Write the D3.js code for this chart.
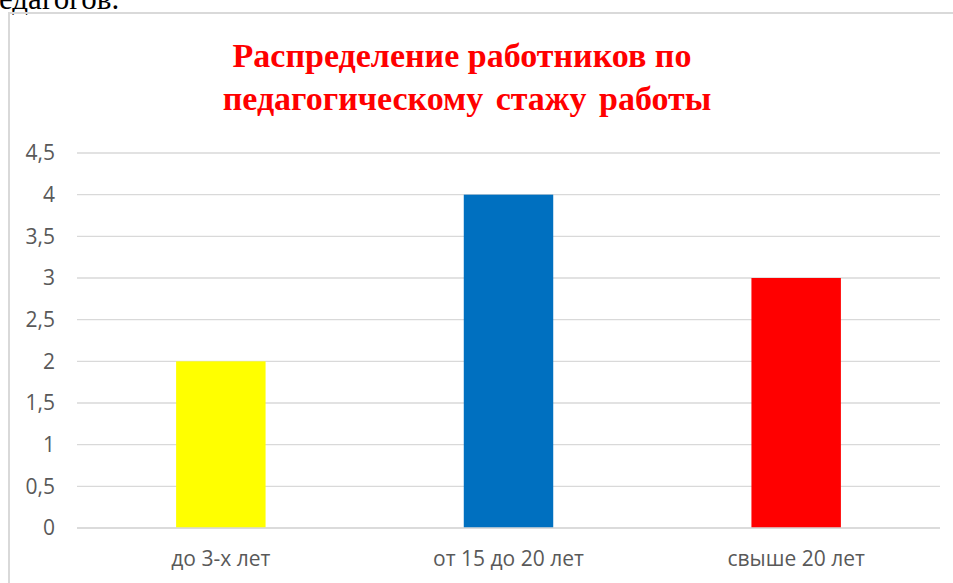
<!DOCTYPE html>
<html>
<head>
<meta charset="utf-8">
<script src="https://cdn.jsdelivr.net/npm/d3@7"></script>
<style>
  body { margin: 0; background: #fff; overflow: hidden; }
</style>
</head>
<body>
<div id="chart"></div>
<script>
const categories = ["до 3-х лет", "от 15 до 20 лет", "свыше 20 лет"];
const counts = [2, 4, 3];
const barColors = ["#ffff00", "#0070c0", "#ff0000"];
const yTicks = [0, 0.5, 1, 1.5, 2, 2.5, 3, 3.5, 4, 4.5];
const titleLines = ["Распределение работников по", "педагогическому стажу работы"];

const width = 953,
  height = 583;

const svg = d3.select("#chart")
  .append("svg")
  .attr("width", width)
  .attr("height", height);

// piece of the document text above the chart
svg.append("text")
  .attr("x", -1)
  .attr("y", 9)
  .attr("font-family", "Liberation Serif")
  .attr("font-size", 31)
  .attr("fill", "#000")
  .text("едагогов.");

// chart border
svg.append("rect")
  .attr("x", 9)
  .attr("y", 13)
  .attr("width", 960)
  .attr("height", 600)
  .attr("fill", "none")
  .attr("stroke", "#d9d9d9")
  .attr("stroke-width", 2);

const x = d3.scaleBand()
  .domain(categories)
  .range([77, 940])
  .paddingInner(0.689)
  .paddingOuter(0.3445);

const y = d3.scaleLinear()
  .domain([0, 4.5])
  .range([528, 153]);

// grid
svg.append("g")
  .selectAll("line")
  .data(yTicks)
  .join("line")
  .attr("x1", 77)
  .attr("x2", 940)
  .attr("y1", d => y(d))
  .attr("y2", d => y(d))
  .attr("stroke", "#d9d9d9")
  .attr("stroke-width", 1.3);

const fmt = d => String(d).replace(".", ",");

svg.append("g")
  .attr("font-family", "Open Sans")
  .attr("font-size", 21)
  .attr("fill", "#595959")
  .attr("text-anchor", "end")
  .selectAll("text")
  .data(yTicks)
  .join("text")
  .attr("x", 55)
  .attr("y", d => y(d))
  .attr("dy", "0.35em")
  .text(fmt);

// bars
svg.append("g")
  .selectAll("rect")
  .data(categories)
  .join("rect")
  .attr("x", d => x(d))
  .attr("width", x.bandwidth())
  .attr("y", (d, i) => y(counts[i]))
  .attr("height", (d, i) => y(0) - y(counts[i]))
  .attr("fill", (d, i) => barColors[i]);

// baseline over bars
svg.append("line")
  .attr("x1", 77)
  .attr("x2", 940)
  .attr("y1", y(0))
  .attr("y2", y(0))
  .attr("stroke", "#d9d9d9")
  .attr("stroke-width", 1.3);

svg.append("g")
  .attr("font-family", "Open Sans")
  .attr("font-size", 21)
  .attr("fill", "#595959")
  .attr("text-anchor", "middle")
  .selectAll("text")
  .data(categories)
  .join("text")
  .attr("x", d => x(d) + x.bandwidth() / 2)
  .attr("y", 566)
  .text(d => d);

// title
svg.append("g")
  .attr("font-family", "Liberation Serif")
  .attr("font-weight", "bold")
  .attr("font-size", 34)
  .attr("fill", "#ff0000")
  .attr("text-anchor", "middle")
  .selectAll("text")
  .data(titleLines)
  .join("text")
  .attr("x", (d, i) => i ? 467 : 462)
  .attr("y", (d, i) => 67 + i * 43)
  .attr("word-spacing", (d, i) => i ? 4 : 0)
  .text(d => d);
</script>
</body>
</html>
